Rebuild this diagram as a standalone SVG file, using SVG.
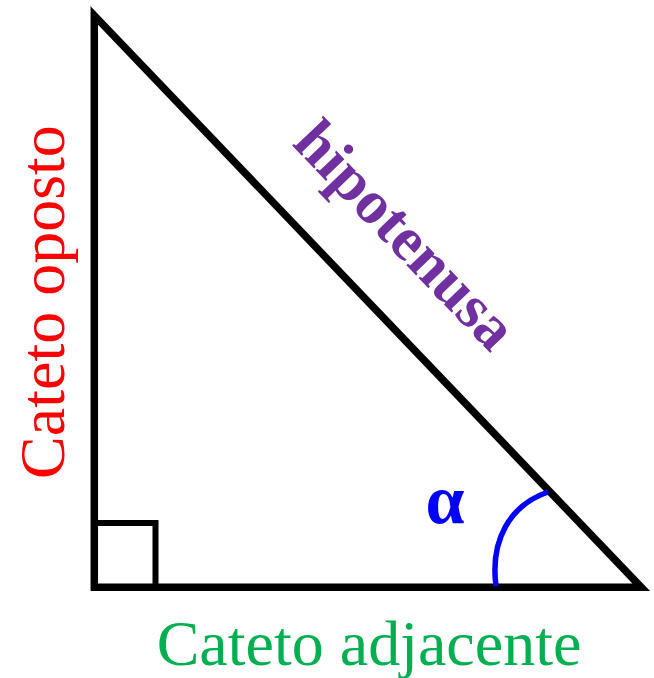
<svg xmlns="http://www.w3.org/2000/svg" width="654" height="678" viewBox="0 0 654 678">
<style>
.lbl{font-family:"Liberation Serif","Times New Roman",serif;}
.edge{fill:none;stroke:#000;stroke-linejoin:miter;stroke-miterlimit:10;}
</style>
<rect width="654" height="678" fill="#fff"/>
<g id="triangle">
<polygon class="edge" points="94.3,15.5 94.3,587.3 641.3,587.3" stroke-width="7.5"/>
</g>
<g id="right-angle">
<polyline class="edge" points="94.3,523 155.5,523 155.5,587.3" stroke-width="6"/>
</g>
<g id="angle-arc">
<path d="M496,586 C490,540 510,505 548,492" fill="none" stroke="#0000FF" stroke-width="5.5"/>
</g>
<g id="label-alpha">
<text class="lbl" x="445" y="523" font-size="70" font-weight="bold" fill="#0000FF" text-anchor="middle">α</text>
</g>
<g id="label-oposto">
<text class="lbl" transform="translate(64,302) rotate(-90)" font-size="64" fill="#FF0000" text-anchor="middle">Cateto oposto</text>
</g>
<g id="label-adjacente">
<text class="lbl" x="369" y="665" font-size="64" fill="#00B050" text-anchor="middle">Cateto adjacente</text>
</g>
<g id="label-hipotenusa">
<text class="lbl" transform="translate(391,249) rotate(46.3)" font-size="62" font-weight="bold" fill="#7030A0" text-anchor="middle">hipotenusa</text>
</g>
</svg>
